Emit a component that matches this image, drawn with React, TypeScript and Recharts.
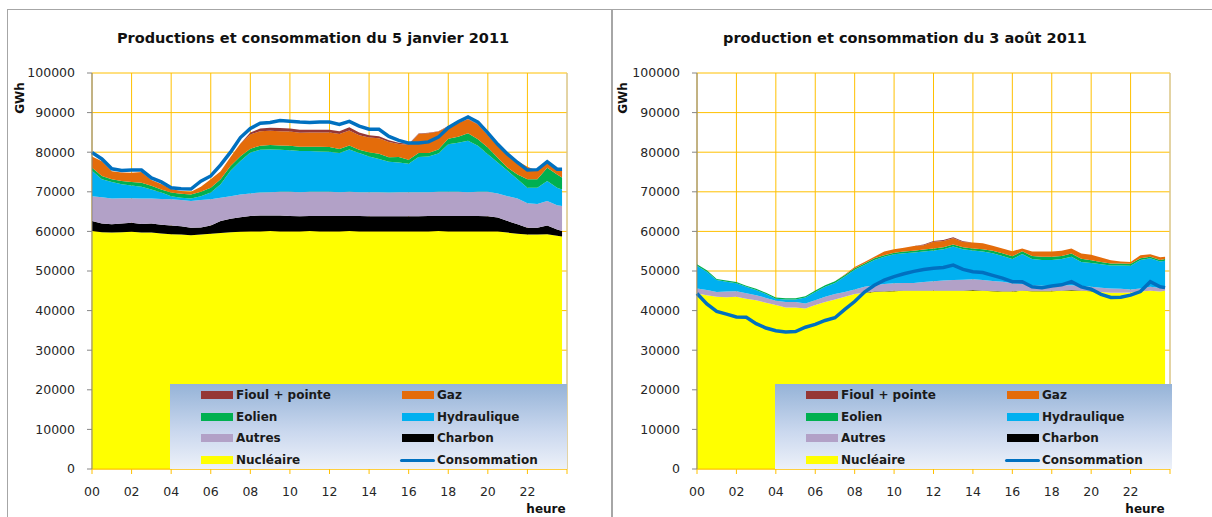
import { ComposedChart, Area, Line, XAxis, YAxis, CartesianGrid, ReferenceLine } from 'recharts'

// heures (pas de 30 min, dernier point 23h45)
const hours = [
  0, 0.5, 1, 1.5, 2, 2.5, 3, 3.5, 4, 4.5, 5, 5.5, 6, 6.5, 7, 7.5, 8, 8.5, 9, 9.5, 10, 10.5, 11, 11.5,
  12, 12.5, 13, 13.5, 14, 14.5, 15, 15.5, 16, 16.5, 17, 17.5, 18, 18.5, 19, 19.5, 20, 20.5, 21, 21.5,
  22, 22.5, 23, 23.5, 23.75,
]
const hourTicks = [0, 2, 4, 6, 8, 10, 12, 14, 16, 18, 20, 22, 24]
const valueTicks = [0, 10000, 20000, 30000, 40000, 50000, 60000, 70000, 80000, 90000, 100000]

// 5 janvier 2011
const janNucleaire = [
  60100, 59800, 59700, 59800, 59900, 59700, 59700, 59500, 59300, 59200, 59000, 59200, 59400, 59600, 59800, 59900,
  60000, 60000, 60100, 60000, 60000, 60000, 60100, 60000, 60000, 60000, 60100, 60000, 60000, 60000, 60000, 60000,
  60000, 60000, 60000, 60100, 60000, 60000, 60000, 60000, 60000, 60000,
  59700, 59400, 59200, 59200, 59300, 58900, 58700,
]
const janCharbon = [
  2500, 2200, 2100, 2200, 2300, 2200, 2300, 2200, 2200, 2100, 1900, 1800, 2100, 3000, 3400, 3700,
  3900, 4000, 3900, 4000, 3900, 3800, 3800, 3900, 3900, 3900, 3800, 3900, 3800, 3800, 3800, 3800,
  3800, 3800, 3900, 3800, 3900, 3900, 3900, 3900, 3800, 3500,
  2900, 2400, 1700, 1700, 2200, 1600, 1400,
]
const janAutres = [
  6300, 6600, 6500, 6400, 6200, 6400, 6300, 6500, 6600, 6600, 6800, 6900, 6600, 5900, 5700, 5700,
  5700, 5800, 5900, 6000, 6100, 6100, 6100, 6100, 6100, 6000, 6100, 6000, 6100, 6100, 6000, 6100,
  6100, 6100, 6000, 6100, 6100, 6100, 6000, 6100, 6200, 6100,
  6300, 6500, 6200, 6000, 6200, 6100, 6300,
]
const janHydraulique = [
  6400, 4600, 4200, 3500, 3200, 3000, 2300, 1600, 800, 600, 600, 1000, 1700, 3400, 6400, 8500,
  10300, 10800, 10800, 10600, 10500, 10400, 10300, 10200, 10100, 9900, 10700, 9900, 9000, 8400, 7800, 7500,
  7200, 8900, 9000, 9700, 12000, 12400, 13000, 11600, 9500, 7800,
  6400, 4900, 3900, 4100, 5000, 4400, 4200,
]
const janEolien = [
  800, 800, 700, 800, 900, 1000, 900, 800, 900, 1000, 1000, 1100, 1200, 1300, 1200, 1200,
  1000, 1000, 1100, 1100, 1100, 1100, 1100, 1200, 1200, 1000, 1000, 800, 1100, 1300, 1100, 1400,
  1000, 1000, 900, 1000, 1400, 1500, 1900, 1700, 1700, 1200,
  800, 1200, 2200, 2200, 3400, 3400, 3000,
]
const janGaz = [
  2800, 3700, 2000, 2200, 2300, 2700, 1500, 1400, 900, 700, 700, 1300, 2200, 2000, 2300, 3200,
  3600, 3700, 3600, 3600, 3600, 3500, 3600, 3600, 3700, 3800, 3800, 3700, 3700, 3900, 3900, 3300,
  3800, 4800, 5000, 4500, 3100, 3500, 3500, 3700, 3100, 3000,
  3300, 3400, 3100, 2100, 1300, 1600, 2000,
]
const janFioul = [
  0, 0, 0, 0, 0, 0, 0, 0, 0, 0, 0, 0, 0, 0, 0, 0,
  500, 700, 800, 800, 800, 800, 700, 700, 700, 700, 800, 700, 600, 500, 400, 300,
  200, 100, 100, 100, 100, 100, 100, 100, 0, 0,
  0, 0, 0, 0, 0, 0, 0,
]
const janConsommation = [
  79900, 78300, 75800, 75400, 75500, 75500, 73500, 72500, 71000, 70800, 70700, 72700, 74000, 76800, 80000, 83700,
  86000, 87300, 87500, 88000, 87800, 87600, 87500, 87600, 87600, 87000, 87800, 86600, 85800, 85800, 84000, 83000,
  82300, 82300, 82600, 83800, 86200, 87700, 88900, 87600, 84900, 82000,
  79500, 77400, 75500, 75600, 77600, 75700, 75700,
]

// 3 août 2011
const augNucleaire = [
  44300, 43900, 43500, 43400, 43500, 43000, 42600, 42000, 41400, 40800, 40800, 40500, 41400, 42200, 42800, 43500,
  44200, 44500, 44700, 44800, 44900, 45000, 45000, 45000, 45000, 45000, 45000, 45000, 45100, 45000, 44900, 44800,
  44800, 45000, 44900, 44900, 44900, 45000, 45100, 45000, 44900, 44700,
  44500, 44500, 44600, 44800, 45000, 44800, 45000,
]
const augCharbon = [
  0, 0, 0, 0, 0, 0, 0, 0, 0, 0, 0, 0, 0, 0, 0, 0,
  0, 0, 100, 100, 100, 100, 100, 100, 100, 100, 100, 100, 100, 100, 100, 100,
  100, 100, 100, 100, 100, 100, 100, 100, 100, 0,
  0, 0, 0, 0, 0, 0, 0,
]
const augAutres = [
  1300, 1300, 1200, 1400, 1400, 1400, 1300, 1200, 1100, 1400, 1400, 1300, 1200, 1300, 1400, 1200,
  1100, 1500, 1600, 1800, 1900, 1900, 1900, 2100, 2300, 2500, 2600, 2700, 2700, 2600, 2500, 2400,
  2000, 1600, 1400, 1300, 1300, 1300, 1200, 1100, 1000, 1100,
  1100, 1000, 700, 800, 1000, 900, 700,
]
const augHydraulique = [
  5700, 4600, 3000, 2500, 2000, 1600, 1300, 1000, 500, 600, 600, 1500, 2100, 2500, 2800, 3900,
  5000, 5500, 6400, 6900, 7300, 7500, 7700, 7700, 7800, 7900, 8500, 7700, 7300, 7200, 7000, 6500,
  6100, 7600, 6600, 6500, 6500, 6600, 7200, 6100, 6000, 5900,
  5800, 5900, 6000, 7200, 7200, 6700, 6900,
]
const augEolien = [
  400, 400, 300, 300, 300, 300, 300, 300, 300, 300, 300, 300, 400, 400, 400, 400,
  400, 400, 400, 400, 400, 400, 400, 500, 500, 500, 500, 500, 500, 600, 600, 700,
  700, 700, 800, 800, 800, 800, 800, 800, 700, 600,
  500, 500, 500, 400, 400, 400, 400,
]
const augGaz = [
  0, 0, 0, 0, 0, 0, 0, 0, 0, 0, 0, 0, 0, 0, 0, 100,
  300, 400, 400, 900, 900, 1000, 1200, 1100, 1700, 1600, 1600, 1300, 1500, 1500, 1300, 1200,
  1300, 700, 1100, 1300, 1300, 1300, 1300, 1300, 1400, 1100,
  800, 500, 500, 800, 600, 700, 600,
]
const augFioul = [
  0, 0, 0, 0, 0, 0, 0, 0, 0, 0, 0, 0, 0, 0, 0, 0,
  0, 0, 0, 0, 0, 0, 0, 200, 200, 200, 200, 200, 0, 0, 0, 0,
  0, 0, 0, 0, 0, 0, 0, 0, 0, 0,
  0, 0, 0, 0, 0, 0, 0,
]
const augConsommation = [
  44300, 41700, 39800, 39100, 38400, 38300, 36700, 35600, 34900, 34600, 34700, 35800, 36500, 37500, 38200, 40300,
  42300, 44700, 46400, 47700, 48600, 49300, 49900, 50400, 50700, 50900, 51500, 50400, 49800, 49600, 48900, 48200,
  47300, 47300, 46000, 45800, 46200, 46500, 47300, 46000, 45400, 44100,
  43300, 43400, 43900, 44800, 47300, 46000, 45800,
]

// empilement, du bas vers le haut
const stackSeries = [
  { key: 'nucleaire', name: 'Nucléaire', color: '#FFFF00' },
  { key: 'charbon', name: 'Charbon', color: '#000000' },
  { key: 'autres', name: 'Autres', color: '#B2A1C7' },
  { key: 'hydraulique', name: 'Hydraulique', color: '#00B0F0' },
  { key: 'eolien', name: 'Eolien', color: '#00B050' },
  { key: 'gaz', name: 'Gaz', color: '#E46C0A' },
  { key: 'fioul', name: 'Fioul + pointe', color: '#953735' },
]
const LINE_COLOR = '#0070C0'
const GRID = '#FFC000'

const legendRows = [
  ['fioul', 'gaz'],
  ['eolien', 'hydraulique'],
  ['autres', 'charbon'],
  ['nucleaire', 'consommation'],
]

type Day = {
  nucleaire: number[]
  charbon: number[]
  autres: number[]
  hydraulique: number[]
  eolien: number[]
  gaz: number[]
  fioul: number[]
  consommation: number[]
}

const buildRows = (d: Day) =>
  hours.map((h, i) => ({
    h,
    nucleaire: d.nucleaire[i],
    charbon: d.charbon[i],
    autres: d.autres[i],
    hydraulique: d.hydraulique[i],
    eolien: d.eolien[i],
    gaz: d.gaz[i],
    fioul: d.fioul[i],
    consommation: d.consommation[i],
  }))

const janRows = buildRows({
  nucleaire: janNucleaire, charbon: janCharbon, autres: janAutres, hydraulique: janHydraulique,
  eolien: janEolien, gaz: janGaz, fioul: janFioul, consommation: janConsommation,
})
const augRows = buildRows({
  nucleaire: augNucleaire, charbon: augCharbon, autres: augAutres, hydraulique: augHydraulique,
  eolien: augEolien, gaz: augGaz, fioul: augFioul, consommation: augConsommation,
})

const TICK_FONT = '"DejaVu Sans", Verdana, sans-serif'
const BOLD_FONT = '"DejaVu Sans", Verdana, sans-serif'

function LegendBox() {
  return (
    <div
      style={{
        position: 'absolute', left: 170, top: 384, width: 397, height: 85,
        background: 'linear-gradient(to bottom, #95B3D7 0%, #C9D7EE 55%, #EDF1F9 100%)',
        fontFamily: BOLD_FONT, fontWeight: 'bold', fontSize: 12, color: '#1a1a1a',
      }}
    >
      {legendRows.map((pair, r) =>
        pair.map((key, c) => {
          const s = stackSeries.find((x) => x.key === key)
          const top = 11 + r * 21.7
          const sx = c === 0 ? 31 : 232
          return (
            <div key={key}>
              {s ? (
                <div style={{ position: 'absolute', left: sx, top: top - 4, width: 32, height: 8, background: s.color }} />
              ) : (
                <div style={{ position: 'absolute', left: sx - 2, top: top - 1.5, width: 35, height: 3, background: LINE_COLOR, borderRadius: 2 }} />
              )}
              <div style={{ position: 'absolute', left: sx + 35, top: top - 8, lineHeight: '16px', whiteSpace: 'nowrap' }}>
                {s ? s.name : 'Consommation'}
              </div>
            </div>
          )
        })
      )}
    </div>
  )
}

type ChartProps = {
  rows: ReturnType<typeof buildRows>
  title: string
  left: number
  rightMargin: number
  titleX: number
  unitX: number
  heureX: number
}

function DayChart({ rows, title, left, rightMargin, titleX, unitX, heureX }: ChartProps) {
  const w = 606
  return (
    <div style={{ position: 'absolute', left, top: 0, width: w, height: 517 }}>
      <ComposedChart width={w} height={517} data={rows} margin={{ top: 73, right: rightMargin, left: 32, bottom: 18 }}>
        <CartesianGrid stroke={GRID} strokeWidth={1} />
        <XAxis
          dataKey="h"
          type="number"
          domain={[0, 24]}
          ticks={hourTicks}
          interval={0}
          height={30}
          tickFormatter={(h: number) => (h === 24 ? '' : String(h).padStart(2, '0'))}
          axisLine={{ stroke: GRID }}
          tickLine={{ stroke: GRID }}
          tickSize={5}
          tickMargin={13}
          tick={{ fontFamily: TICK_FONT, fontSize: 12.5, fill: '#262626' }}
        />
        <YAxis
          type="number"
          domain={[0, 100000]}
          ticks={valueTicks}
          interval={0}
          width={60}
          axisLine={{ stroke: '#868686' }}
          tickLine={{ stroke: '#868686' }}
          tickSize={5}
          tickMargin={12}
          tick={{ fontFamily: TICK_FONT, fontSize: 12.5, fill: '#262626' }}
        />
        {stackSeries.map((s) => (
          <Area
            key={s.key}
            dataKey={s.key}
            name={s.name}
            stackId="prod"
            type="linear"
            stroke="none"
            fill={s.color}
            fillOpacity={1}
            dot={false}
            activeDot={false}
            isAnimationActive={false}
          />
        ))}
        <ReferenceLine x={24} stroke="#C8C8C8" />
        <Line
          dataKey="consommation"
          name="Consommation"
          type="linear"
          stroke={LINE_COLOR}
          strokeWidth={3.5}
          dot={false}
          activeDot={false}
          isAnimationActive={false}
        />
      </ComposedChart>
      <LegendBox />
      <div
        style={{
          position: 'absolute', left: titleX, top: 38, transform: 'translate(-50%, -50%)',
          fontFamily: BOLD_FONT, fontWeight: 'bold', fontSize: 14.5, whiteSpace: 'nowrap', color: '#111',
        }}
      >
        {title}
      </div>
      <div
        style={{
          position: 'absolute', left: unitX, top: 98, transform: 'translate(-50%, -50%) rotate(-90deg)',
          fontFamily: BOLD_FONT, fontWeight: 'bold', fontSize: 12, color: '#111',
        }}
      >
        GWh
      </div>
      <div
        style={{
          position: 'absolute', left: heureX, top: 509, transform: 'translate(-50%, -50%)',
          fontFamily: BOLD_FONT, fontWeight: 'bold', fontSize: 12, color: '#111',
        }}
      >
        heure
      </div>
    </div>
  )
}

export default function App() {
  return (
    <div style={{ position: 'fixed', left: 0, top: 0, width: 1212, height: 517, background: '#fff', overflow: 'hidden' }}>
      <div style={{ position: 'absolute', left: 7, top: 9, width: 604, height: 520, border: '1px solid #A6A6A6' }} />
      <div style={{ position: 'absolute', left: 611, top: 9, width: 620, height: 520, border: '1px solid #A6A6A6' }} />
      <DayChart
        rows={janRows}
        title="Productions et consommation du 5 janvier 2011"
        left={0}
        rightMargin={39}
        titleX={313}
        unitX={20}
        heureX={546}
      />
      <DayChart
        rows={augRows}
        title="production et consommation du 3 août 2011"
        left={605}
        rightMargin={41}
        titleX={300}
        unitX={18}
        heureX={540}
      />
    </div>
  )
}
